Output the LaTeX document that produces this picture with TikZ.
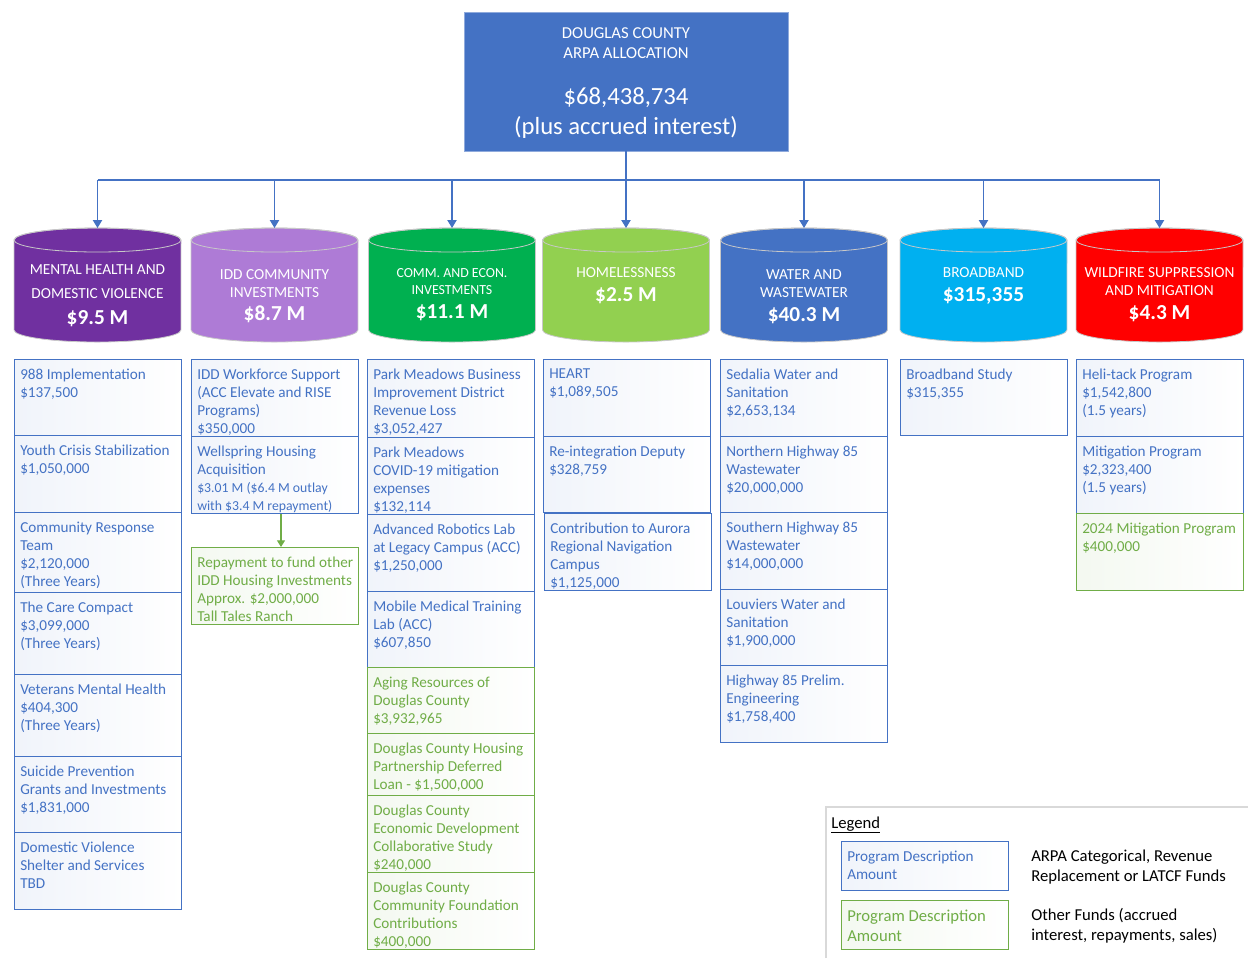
\documentclass[tikz,border=0pt]{standalone}
\usepackage{fontspec}
\setmainfont{Carlito}
\usepackage{xcolor}
\usepackage{tikz}
\usetikzlibrary{arrows.meta}

\definecolor{ablue}{HTML}{4472C4}
\definecolor{agreen}{HTML}{70AD47}
\definecolor{mhpurple}{HTML}{7030A0}
\definecolor{iddlilac}{HTML}{AE7BD6}
\definecolor{cegreen}{HTML}{00B050}
\definecolor{hllime}{HTML}{92D050}
\definecolor{bbcyan}{HTML}{00B0F0}
\definecolor{wfred}{HTML}{FF0000}
\definecolor{drumedge}{HTML}{C8C8C8}
\definecolor{legframe}{HTML}{D9D9D9}

% cylinder: centre x, colour, name
\newcommand\drum[3]{%
  \filldraw[fill=#2,draw=drumedge,line width=0.6pt] (#1-83.5,240) -- (#1-83.5,330)
    arc[start angle=180,end angle=360,x radius=62.6pt,y radius=9pt] -- (#1+83.5,240)
    arc[start angle=0,end angle=180,x radius=62.6pt,y radius=9pt] -- cycle;
  \draw[drumedge,line width=0.6pt] (#1,240) ellipse[x radius=62.6pt,y radius=9pt];
  \coordinate (#3-top) at (#1,228);
}
% program box: name, left, top, bottom, colour, text
\newcommand\prog[6]{%
  \node[progbox,draw=#5,left color=#5!8,right color=white,minimum height={(#4-#3)*0.75pt}] (#1) at (#2,#3) {};
  \node[progtext,text=#5] (#1-t) at (#2+6,#3+9.4) {#6};
}

\begin{document}
\begin{tikzpicture}[x=0.75pt,y=-0.75pt,
    progbox/.style={anchor=north west,minimum width=125.25pt,inner sep=0pt,line width=0.9pt},
    progtext/.style={anchor=north west,align=left,inner sep=0pt,font=\fontsize{11.4}{13.5}\selectfont,execute at begin node=\strut},
    drumtitle/.style={anchor=base,align=center,text=white,inner sep=0pt,font=\fontsize{11.5}{13.5}\selectfont},
    drumsum/.style={anchor=base,text=white,inner sep=0pt,font=\fontsize{16}{19}\selectfont\bfseries},
    feed/.style={ablue,line width=0.9pt,-{Triangle[length=6pt,width=7pt]}}]
  \useasboundingbox (0,0) rectangle (1248,958);

  % allocation
  \node[fill=ablue,draw=ablue!60!white,minimum width=243pt,minimum height=104.25pt,inner sep=0pt] (alloc) at (626,81.5) {};
  \node[anchor=base,align=center,text=white,inner sep=0pt,font=\fontsize{12.5}{15}\selectfont] (alloc-t) at (626,58.5) {DOUGLAS COUNTY\\ARPA ALLOCATION};
  \node[anchor=base,align=center,text=white,inner sep=0pt,font=\fontsize{18.5}{22.5}\selectfont] (alloc-sum) at (626,134) {\$68,438,734\\(plus accrued interest)};

  % categories
  \drum{97.5}{mhpurple}{mh}
  \drum{274.5}{iddlilac}{idd}
  \drum{452}{cegreen}{ce}
  \drum{626}{hllime}{hl}
  \drum{804}{ablue}{ww}
  \drum{983.5}{bbcyan}{bb}
  \drum{1159.5}{wfred}{wf}

  \node[drumtitle,font=\fontsize{11.5}{18}\selectfont] (mh) at (97.5,298.5) {MENTAL HEALTH AND\\DOMESTIC VIOLENCE};
  \node[drumsum] (mh-sum) at (97.5,324) {\$9.5 M};
  \node[drumtitle] (idd) at (274.5,297.5) {IDD COMMUNITY\\INVESTMENTS};
  \node[drumsum] (idd-sum) at (274.5,320) {\$8.7 M};
  \node[drumtitle,font=\fontsize{10.4}{12.75}\selectfont] (ce) at (452,294) {COMM. AND ECON.\\INVESTMENTS};
  \node[drumsum] (ce-sum) at (452,318) {\$11.1 M};
  \node[drumtitle] (hl) at (626,277.5) {HOMELESSNESS};
  \node[drumsum] (hl-sum) at (626,301) {\$2.5 M};
  \node[drumtitle] (ww) at (804,297.5) {WATER AND\\WASTEWATER};
  \node[drumsum] (ww-sum) at (804,321) {\$40.3 M};
  \node[drumtitle] (bb) at (983.5,277.5) {BROADBAND};
  \node[drumsum] (bb-sum) at (983.5,301) {\$315,355};
  \node[drumtitle] (wf) at (1159.5,295.5) {WILDFIRE SUPPRESSION\\AND MITIGATION};
  \node[drumsum] (wf-sum) at (1159.5,319) {\$4.3 M};

  \coordinate (bus) at (626,180);
  \draw[ablue,line width=0.9pt] (alloc.south) -- (bus);
  \draw[ablue,line width=0.9pt] (bus -| mh-top) -- (bus -| wf-top);
  \foreach \c in {mh,idd,ce,hl,ww,bb,wf}
    \draw[feed] (bus -| \c-top) -- (\c-top);

  % mental health
  \prog{p988}{14}{359}{435}{ablue}{988 Implementation\\\$137,500}
  \prog{youth}{14}{435}{512}{ablue}{Youth Crisis Stabilization\\\$1,050,000}
  \prog{crt}{14}{512}{592}{ablue}{Community Response\\Team\\\$2,120,000\\(Three Years)}
  \prog{care}{14}{592}{674}{ablue}{The Care Compact\\\$3,099,000\\(Three Years)}
  \prog{vets}{14}{674}{756}{ablue}{Veterans Mental Health\\\$404,300\\(Three Years)}
  \prog{suicide}{14}{756}{832}{ablue}{Suicide Prevention\\Grants and Investments\\\$1,831,000}
  \prog{dv}{14}{832}{909}{ablue}{Domestic Violence\\Shelter and Services\\TBD}

  % idd
  \prog{iddwf}{191}{359}{436}{ablue}{IDD Workforce Support\\(ACC Elevate and RISE\\Programs)\\\$350,000}
  \prog{wellspring}{191}{436}{513}{ablue}{Wellspring Housing\\Acquisition\\{\fontsize{10.3}{12.75}\selectfont\$3.01 M (\$6.4 M outlay}\\{\fontsize{10.3}{12.75}\selectfont with \$3.4 M repayment)}}
  \prog{repay}{191}{547}{624}{agreen}{Repayment to fund other\\IDD Housing Investments\\Approx. \$2,000,000\\Tall Tales Ranch}
  \draw[agreen,line width=0.9pt,-{Triangle[length=5pt,width=6pt]}] (281,0 |- wellspring.south) -- (281,0 |- repay.north);

  % community and economic
  \prog{pmbid}{367}{359}{437}{ablue}{Park Meadows Business\\Improvement District\\Revenue Loss\\\$3,052,427}
  \prog{pmcovid}{367}{437}{514}{ablue}{Park Meadows\\COVID-19 mitigation\\expenses\\\$132,114}
  \prog{robotics}{367}{514}{591}{ablue}{Advanced Robotics Lab\\at Legacy Campus (ACC)\\\$1,250,000}
  \prog{medlab}{367}{591}{667}{ablue}{Mobile Medical Training\\Lab (ACC)\\\$607,850}
  \prog{aging}{367}{667}{733}{agreen}{Aging Resources of\\Douglas County\\\$3,932,965}
  \prog{housing}{367}{733}{795}{agreen}{Douglas County Housing\\Partnership Deferred\\Loan - \$1,500,000}
  \prog{edc}{367}{795}{872}{agreen}{Douglas County\\Economic Development\\Collaborative Study\\\$240,000}
  \prog{found}{367}{872}{949}{agreen}{Douglas County\\Community Foundation\\Contributions\\\$400,000}

  % homelessness
  \prog{heart}{543}{359}{436}{ablue}{HEART\\\$1,089,505}
  \prog{reint}{543}{436}{512}{ablue}{Re-integration Deputy\\\$328,759}
  \prog{aurora}{544}{513}{590}{ablue}{Contribution to Aurora\\Regional Navigation\\Campus\\\$1,125,000}

  % water
  \prog{sedalia}{720}{359}{436}{ablue}{Sedalia Water and\\Sanitation\\\$2,653,134}
  \prog{north85}{720}{436}{512}{ablue}{Northern Highway 85\\Wastewater\\\$20,000,000}
  \prog{south85}{720}{512}{589}{ablue}{Southern Highway 85\\Wastewater\\\$14,000,000}
  \prog{louviers}{720}{589}{665}{ablue}{Louviers Water and\\Sanitation\\\$1,900,000}
  \prog{prelim}{720}{665}{742}{ablue}{Highway 85 Prelim.\\Engineering\\\$1,758,400}

  % broadband
  \prog{bbstudy}{900}{359}{435}{ablue}{Broadband Study\\\$315,355}

  % wildfire
  \prog{helitack}{1076}{359}{436}{ablue}{Heli-tack Program\\\$1,542,800\\(1.5 years)}
  \prog{mitig}{1076}{436}{513}{ablue}{Mitigation Program\\\$2,323,400\\(1.5 years)}
  \prog{mitig24}{1076}{513}{590}{agreen}{2024 Mitigation Program\\\$400,000}

  % legend
  \draw[legframe,line width=0.8pt] (826,958) |- (1248,807);
  \node[anchor=base west,inner sep=0pt,font=\fontsize{12.5}{15}\selectfont] (leg) at (831,828) {\underline{Legend}};
  \prog{legA}{841}{841}{890}{ablue}{Program Description\\Amount}
  \prog{legB}{841}{900}{949}{agreen}{\fontsize{12.5}{15}\selectfont Program Description\\[1.5pt]\fontsize{12.5}{15}\selectfont Amount}
  \node[anchor=base west,align=left,inner sep=0pt,font=\fontsize{12.5}{15}\selectfont] (legA-d) at (1031,881) {ARPA Categorical, Revenue\\Replacement or LATCF Funds};
  \node[anchor=base west,align=left,inner sep=0pt,font=\fontsize{12.5}{15}\selectfont] (legB-d) at (1031,940) {Other Funds (accrued\\interest, repayments, sales)};
\end{tikzpicture}
\end{document}
